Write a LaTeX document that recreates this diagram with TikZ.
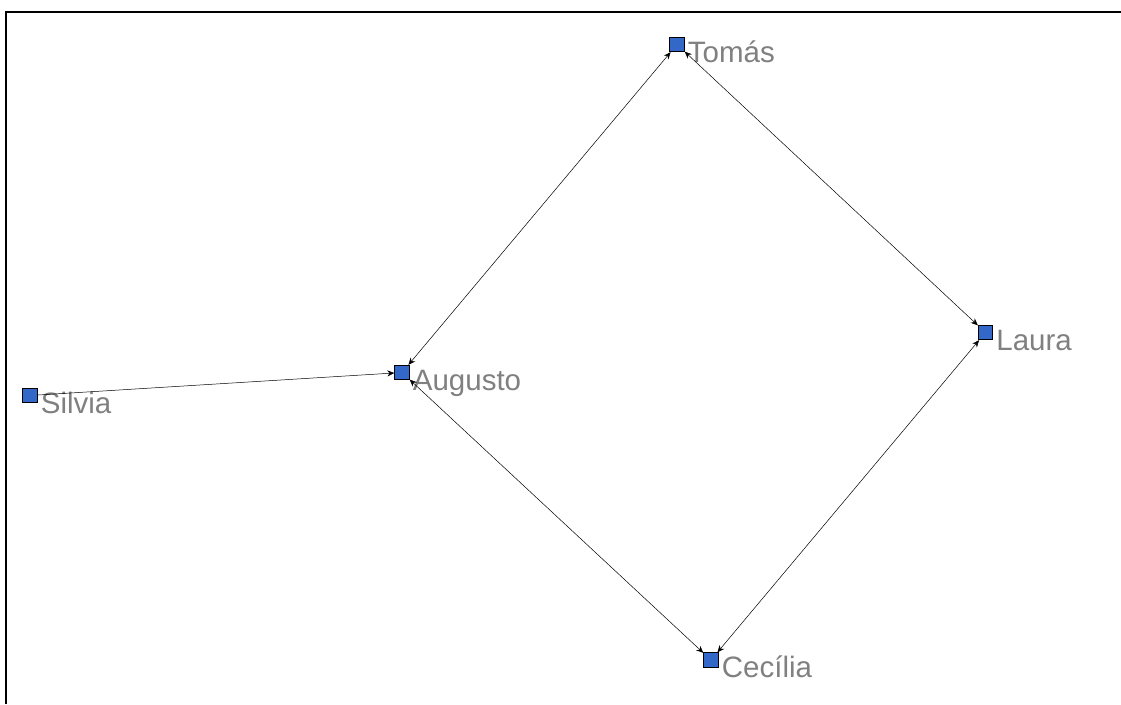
\documentclass[tikz,border=0pt]{standalone}
\usepackage{fontspec}
\setmainfont{Liberation Sans}
\usepackage{tikz}
\usetikzlibrary{arrows.meta}

\definecolor{actorblue}{RGB}{52,104,200}
\definecolor{namegray}{RGB}{128,128,128}

\begin{document}
\begin{tikzpicture}[x=1pt, y=-1pt,
    actor/.style={draw=black, fill=actorblue, line width=0.9pt, minimum size=14.5pt, inner sep=0pt},
    actorname/.style={anchor=base west, inner sep=0pt, xshift=3pt, yshift=-17.5pt, text=namegray, font=\fontsize{29.5}{31}\selectfont},
    tie/.style={line width=0.5pt, {Stealth[length=7pt, width=6pt]}-{Stealth[length=7pt, width=6pt]}}]
        \useasboundingbox (0,0) rectangle (1121,704);
        % Draw the frame
        \draw[line width=1.6pt] (6,704) -- (6,12) -- (1121,12);
        % Draw the actors
        \node[actor, label={[actorname]0:Tomás}] (tomas) at (677,44.5) {};
        \node[actor, label={[actorname]0:Laura}] (laura) at (985.5,332.5) {};
        \node[actor, label={[actorname]0:Augusto}] (augusto) at (402,372.5) {};
        \node[actor, label={[actorname]0:Silvia}] (silvia) at (30,395.5) {};
        \node[actor, label={[actorname]0:Cecília}] (cecilia) at (711,660) {};
        % Draw the ties
        \draw[line width=0.5pt, -{Stealth[length=7pt, width=6pt]}] (silvia) -- (augusto);
        \foreach \a/\b in {augusto/tomas, tomas/laura, augusto/cecilia, cecilia/laura}{
            \draw[tie] (\a) -- (\b);
        }
    \end{tikzpicture}
\end{document}
